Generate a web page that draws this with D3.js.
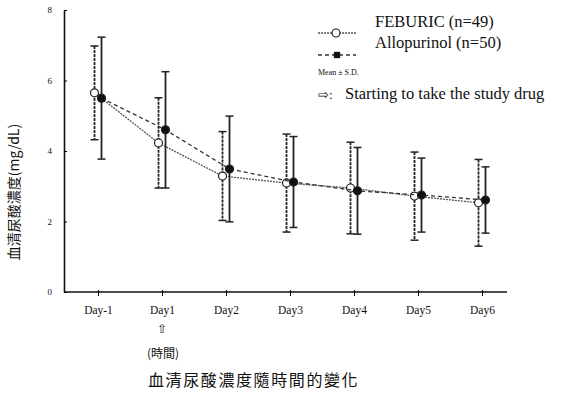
<!DOCTYPE html>
<html>
<head>
<meta charset="utf-8">
<script src="https://cdn.jsdelivr.net/npm/d3@7"></script>
<style>
  body { margin: 0; background: #fff; }
  text { font-family: "Liberation Serif", serif; fill: #111; }
  .cjk { font-family: "Noto Sans CJK TC", sans-serif; }
</style>
</head>
<body>
<svg id="chart" width="563" height="396"></svg>
<script>
const days = ["Day-1", "Day1", "Day2", "Day3", "Day4", "Day5", "Day6"];
const feburicMean = [5.65, 4.23, 3.29, 3.09, 2.95, 2.72, 2.53];
const feburicSD = [1.33, 1.28, 1.26, 1.39, 1.30, 1.25, 1.23];
const alloMean = [5.50, 4.60, 3.49, 3.12, 2.87, 2.75, 2.61];
const alloSD = [1.73, 1.65, 1.50, 1.29, 1.23, 1.05, 0.94];
const yTicks = [0, 2, 4, 6, 8];

const svg = d3.select("#chart");

const x = d3.scalePoint().domain(days).range([98, 482]);
const y = d3.scaleLinear().domain([0, 8]).range([292, 10]);

// axes
const yAxis = svg.append("g")
  .attr("transform", "translate(64,0)")
  .call(d3.axisLeft(y).tickValues(yTicks).tickSizeInner(-3).tickSizeOuter(0).tickPadding(12).tickFormat(d3.format("d")));
yAxis.select(".domain").attr("stroke", "#111").attr("stroke-width", 1.6);
yAxis.selectAll("text").style("font-size", "9px");

svg.append("line")
  .attr("x1", 64).attr("x2", 507)
  .attr("y1", y(0)).attr("y2", y(0))
  .attr("stroke", "#111").attr("stroke-width", 1.6);

const xAxis = svg.append("g")
  .attr("transform", "translate(0," + (y(0) - 2) + ")")
  .call(d3.axisBottom(x).tickSize(6).tickPadding(10));
xAxis.select(".domain").remove();
xAxis.selectAll("text").style("font-size", "11.5px");

// series
const series = [
  { name: "FEBURIC (n=49)", mean: feburicMean, sd: feburicSD, dx: -3.5, dash: "2,1", lineColor: "#555", barDash: "3,1", filled: false },
  { name: "Allopurinol (n=50)", mean: alloMean, sd: alloSD, dx: 3.5, dash: "4,3", lineColor: "#333", barDash: null, filled: true }
];

series.forEach(s => {
  const pts = days.map((d, i) => ({ d, m: s.mean[i], sd: s.sd[i] }));
  const g = svg.append("g");

  g.append("path")
    .datum(pts)
    .attr("fill", "none")
    .attr("stroke", s.lineColor)
    .attr("stroke-width", 1.3)
    .attr("stroke-dasharray", s.dash)
    .attr("d", d3.line().x(p => x(p.d) + s.dx).y(p => y(p.m)));

  const bars = g.selectAll(".bar").data(pts).enter().append("g");
  bars.append("line")
    .attr("x1", p => x(p.d) + s.dx).attr("x2", p => x(p.d) + s.dx)
    .attr("y1", p => y(p.m + p.sd)).attr("y2", p => y(p.m - p.sd))
    .attr("stroke", "#222").attr("stroke-width", 1.8)
    .attr("stroke-dasharray", s.barDash);
  [1, -1].forEach(sign => {
    bars.append("line")
      .attr("x1", p => x(p.d) + s.dx - 4).attr("x2", p => x(p.d) + s.dx + 4)
      .attr("y1", p => y(p.m + sign * p.sd)).attr("y2", p => y(p.m + sign * p.sd))
      .attr("stroke", "#222").attr("stroke-width", 1.5);
  });

  g.selectAll(".pt").data(pts).enter().append("circle")
    .attr("cx", p => x(p.d) + s.dx)
    .attr("cy", p => y(p.m))
    .attr("r", 4)
    .attr("fill", s.filled ? "#111" : "#fff")
    .attr("stroke", "#222")
    .attr("stroke-width", 1.2);
});

// legend
const leg = svg.append("g");
leg.append("line").attr("x1", 318).attr("x2", 356).attr("y1", 33).attr("y2", 33)
  .attr("stroke", "#555").attr("stroke-width", 1.3).attr("stroke-dasharray", "2,1");
leg.append("circle").attr("cx", 336).attr("cy", 33).attr("r", 4)
  .attr("fill", "#fff").attr("stroke", "#222").attr("stroke-width", 1.2);
leg.append("line").attr("x1", 318).attr("x2", 356).attr("y1", 55).attr("y2", 55)
  .attr("stroke", "#333").attr("stroke-width", 1.3).attr("stroke-dasharray", "4,3");
leg.append("path").attr("transform", "translate(337,55)")
  .attr("d", d3.symbol(d3.symbolSquare, 40)()).attr("fill", "#111");
leg.append("text").attr("x", 375).attr("y", 27).style("font-size", "16.5px").text(series[0].name);
leg.append("text").attr("x", 375).attr("y", 48).style("font-size", "16.5px").text(series[1].name);
leg.append("text").attr("x", 318).attr("y", 75).style("font-size", "8px").text("Mean ± S.D.");
leg.append("text").attr("x", 318).attr("y", 99).style("font-size", "13px").text("⇨:");
leg.append("text").attr("x", 345).attr("y", 99).style("font-size", "16.5px").text("Starting to take the study drug");

// arrow under Day1 and captions
svg.append("text").attr("x", x("Day1")).attr("y", 333).attr("text-anchor", "middle")
  .style("font-size", "12px").text("⇧");
svg.append("text").attr("class", "cjk").attr("x", 163).attr("y", 358).attr("text-anchor", "middle")
  .style("font-size", "12px").text("(時間)");
svg.append("text").attr("class", "cjk").attr("x", 148).attr("y", 386)
  .style("font-size", "16px").style("letter-spacing", "1.6px").text("血清尿酸濃度隨時間的變化");

svg.append("text").attr("class", "cjk")
  .attr("transform", "translate(19,192) rotate(-90)")
  .attr("text-anchor", "middle")
  .style("font-size", "14px").text("血清尿酸濃度(mg/dL)");
</script>
</body>
</html>
